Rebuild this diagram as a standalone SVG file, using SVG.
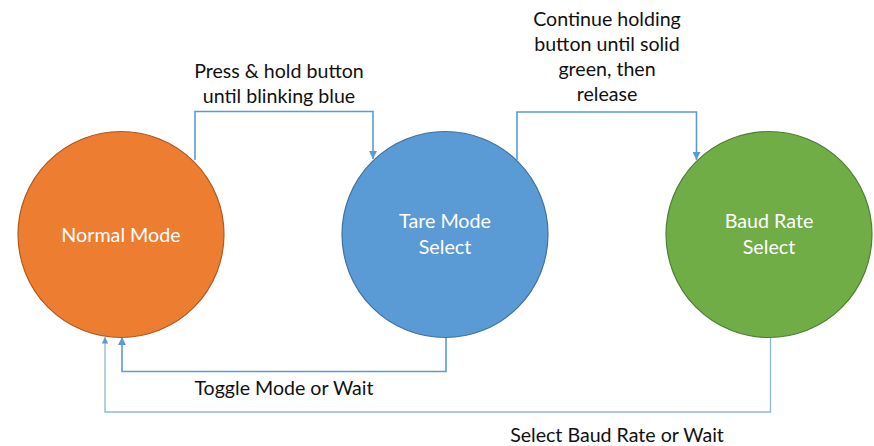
<svg xmlns="http://www.w3.org/2000/svg" width="874" height="446" viewBox="0 0 874 446">
  <style>
    .state { stroke-width: 1.2; }
    .state-label { font-family: Lato, "Liberation Sans", sans-serif; font-size: 19.7px; fill: #ffffff; text-anchor: middle; }
    .edge { fill: none; stroke: #5b9bd5; stroke-width: 1.6; }
    .edge-label { font-family: Lato, "Liberation Sans", sans-serif; font-size: 19.6px; fill: #111111; text-anchor: middle; }
  </style>
  <defs>
    <marker id="arrow" viewBox="0 0 10 10" refX="10" refY="5" markerWidth="5" markerHeight="5" orient="auto" markerUnits="strokeWidth">
      <path d="M0,0 L10,5 L0,10 z" fill="#5b9bd5"/>
    </marker>
  </defs>
  <rect width="874" height="446" fill="#ffffff"/>

  <!-- state transitions -->
  <g id="connectors">
    <path class="edge" d="M195,160 V111.5 H373 V159" marker-end="url(#arrow)"/>
    <path class="edge" d="M517,160 V112 H696.5 V160" marker-end="url(#arrow)"/>
    <path class="edge" d="M446,337 V371.5 H122 V337" marker-end="url(#arrow)"/>
    <path class="edge" d="M770.5,337 V412 H105 V337" marker-end="url(#arrow)" style="stroke:#8fb6dd;stroke-width:1.3"/>
    <text class="edge-label" x="279" y="78">Press &amp; hold button</text>
    <text class="edge-label" x="279" y="103">until blinking blue</text>
    <text class="edge-label" x="607" y="26">Continue holding</text>
    <text class="edge-label" x="607" y="51">button until solid</text>
    <text class="edge-label" x="607" y="76">green, then</text>
    <text class="edge-label" x="607" y="101">release</text>
    <text class="edge-label" x="284" y="395">Toggle Mode or Wait</text>
    <text class="edge-label" x="617" y="442">Select Baud Rate or Wait</text>
  </g>

  <g id="normal-mode">
    <circle class="state" cx="121" cy="234.5" r="103" fill="#ed7d31" stroke="#ae5a21"/>
    <text class="state-label" x="121" y="242">Normal Mode</text>
  </g>

  <g id="tare-mode-select">
    <circle class="state" cx="445" cy="234.5" r="103" fill="#5b9bd5" stroke="#41719c"/>
    <text class="state-label" x="445" y="228">Tare Mode</text>
    <text class="state-label" x="445" y="254">Select</text>
  </g>

  <g id="baud-rate-select">
    <circle class="state" cx="769" cy="234.5" r="103" fill="#70ad47" stroke="#507e32"/>
    <text class="state-label" x="769" y="228">Baud Rate</text>
    <text class="state-label" x="769" y="254">Select</text>
  </g>
</svg>
